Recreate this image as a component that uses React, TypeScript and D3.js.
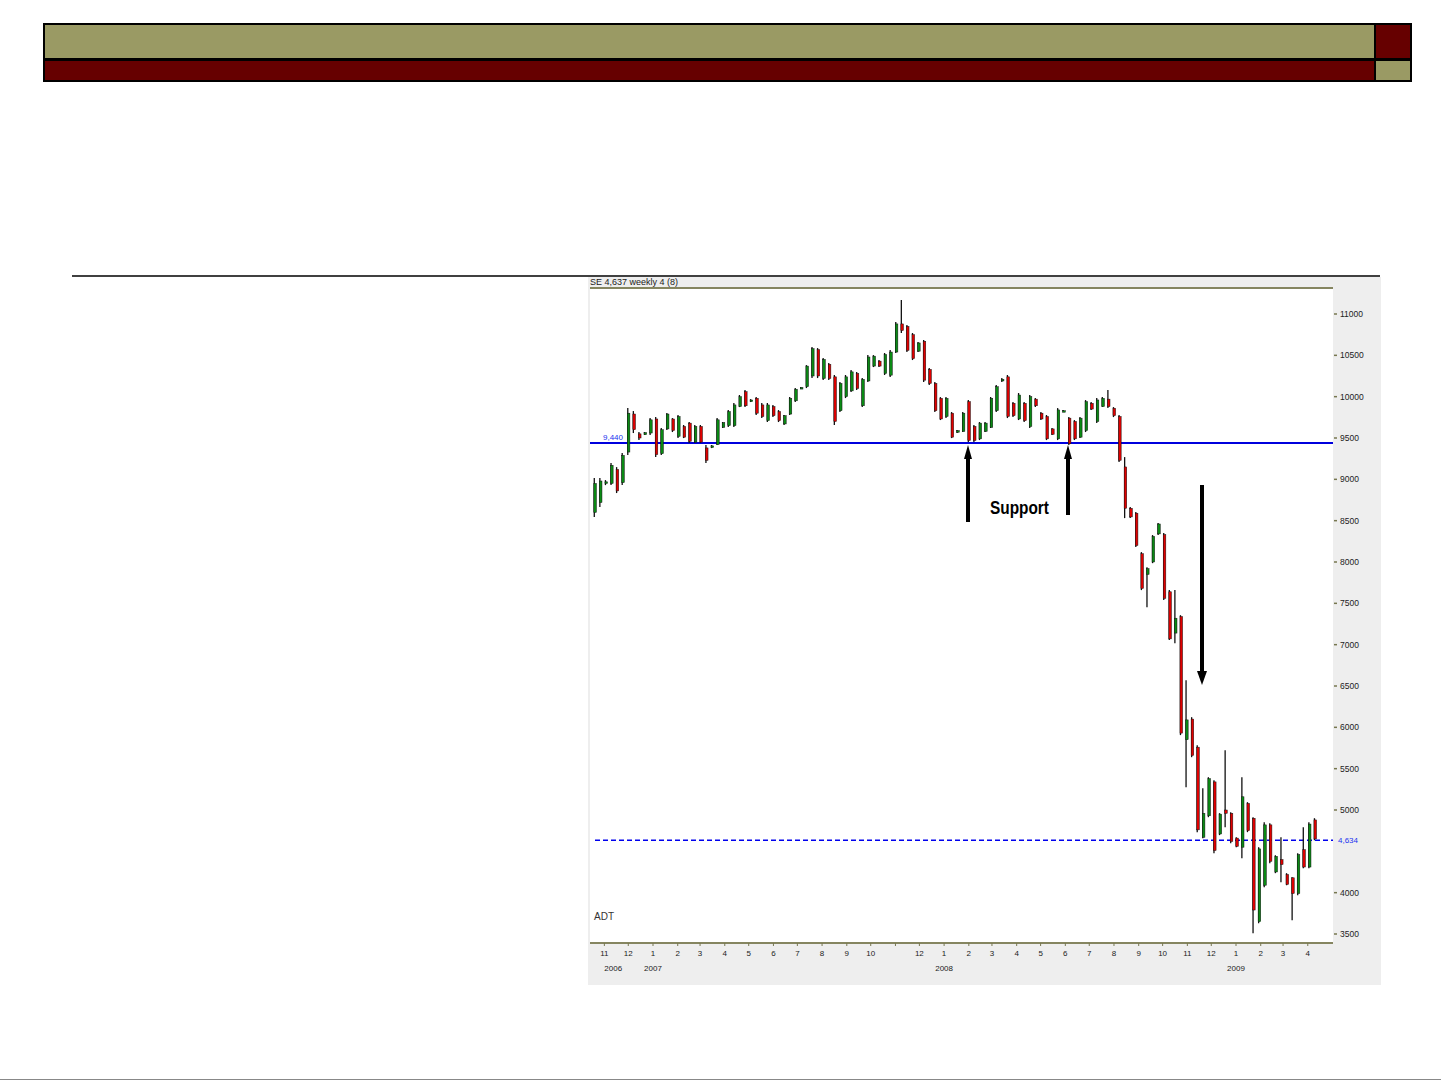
import React from "react";
import * as d3 from "d3";

// Weekly candles (first week ending 2006-10-20)
const highs = [9015,9015,8991,9197,9148,9318,9862,9826,9572,9572,
9741,9753,9620,9802,9741,9778,9657,9693,9657,9657,
9415,9415,9741,9693,9838,9923,10020,10080,9970,9995,
9923,9923,9899,9838,9778,9995,10104,10116,10382,10600,
10588,10467,10407,10262,10177,10262,10322,10298,10225,10503,
10503,10443,10528,10564,10903,11169,10866,10770,10661,10685,
10346,10177,9995,9995,9814,9596,9814,9959,9657,9693,
9693,9995,10140,10225,10262,9935,10044,9935,10020,9983,
9814,9778,9620,9862,9838,9753,9717,9753,9959,9935,
9983,9995,10080,9874,9778,9269,8664,8604,8120,7938,
8326,8471,8350,7660,7660,7357,6571,6123,5784,5264,
5397,5361,4962,5724,4974,4671,5397,5095,4913,4550,
4853,4841,4453,4671,4236,4187,4478,4792,4853,4901];
const lows = [8543,8664,8930,8930,8834,8930,9294,9560,9475,9536,
9536,9269,9294,9596,9572,9499,9499,9439,9439,9439,
9197,9378,9415,9620,9632,9632,9874,9874,9935,9778,
9741,9693,9753,9693,9657,9778,9935,10092,10104,10225,
10225,10201,10201,9657,9814,9983,10056,10080,9874,10177,
10358,10358,10262,10237,10528,10770,10540,10443,10540,10177,
10140,9814,9717,9741,9499,9560,9572,9451,9451,9475,
9572,9620,9814,10177,9741,9753,9717,9693,9620,9874,
9717,9475,9536,9475,9814,9415,9475,9499,9572,9838,
9681,9874,9862,9753,9209,8531,8531,8180,7660,7454,
7986,8326,7539,7055,7018,5906,5276,5639,4732,4659,
4913,4478,4696,4792,4598,4550,4417,4732,3509,3630,
4066,4357,4236,4127,4090,3667,3970,4296,4296,4634];
const opens = [8600,8720,8950,8950,9120,8960,9330,9790,9550,9540,
9560,9730,9310,9610,9730,9520,9640,9680,9450,9640,
9380,9385,9420,9630,9650,9650,9880,10060,9940,9980,
9900,9710,9880,9820,9670,9790,9950,10100,10120,10250,
10570,10220,10390,10240,9830,10000,10070,10280,9890,10190,
10370,10430,10280,10260,10540,10880,10850,10750,10550,10670,
10330,10160,9980,9760,9800,9570,9580,9940,9640,9490,
9580,9630,9830,10190,10240,9920,9730,9920,9640,9970,
9800,9760,9610,9490,9820,9740,9700,9510,9590,9920,
9700,9880,9970,9860,9760,9150,8650,8590,8100,7850,
8000,8340,8330,7640,7140,7340,5850,6100,5760,4670,
4930,5340,4710,5000,4960,4660,4550,5080,4900,3650,
4090,4820,4250,4400,4220,4180,3990,4520,4310,4880];
const closes = [8950,8980,8970,9170,8860,9290,9800,9600,9500,9565,
9720,9300,9600,9790,9590,9760,9510,9460,9640,9450,
9230,9405,9720,9685,9820,9900,10000,9890,9960,9800,
9760,9900,9770,9710,9770,9980,10090,10110,10370,10580,
10250,10450,10220,9700,10160,10240,10300,10100,10210,10480,
10490,10370,10510,10540,10880,10800,10560,10460,10650,10200,
10160,9830,9730,9980,9510,9590,9800,9470,9470,9680,
9680,9980,10120,10210,9760,9770,10020,9710,10000,9890,
9730,9490,9545,9840,9830,9430,9490,9740,9940,9850,
9960,9980,9880,9770,9230,8650,8545,8200,7680,7920,
8310,8460,7560,7070,7320,5930,6090,5660,4760,4960,
5380,4510,4950,4960,4620,4560,5160,4750,3790,4530,
4820,4380,4440,4340,4100,3990,4460,4310,4830,4650];

const yTicks = [11000,10500,10000,9500,9000,8500,8000,7500,7000,6500,6000,5500,5000,4000,3500];
const supportLevel = 9440;
const supportLabel = "9,440";
const lastLevel = 4634;
const lastLabel = "4,634";
const yearLabels = ["2006", "2007", "2008", "2009"];
const skippedMonthLabel = "2007-11";
const titleText = "SE 4,637  weekly 4 (8)";
const cornerText = "ADT";
const annotationText = "Support";

const OLIVE = "#9a9a64";
const DARKRED = "#660000";

export default function App() {
  const start = new Date(2006, 9, 20);
  const dates = highs.map((_, i) => new Date(2006, 9, 20 + 7 * i));
  const candles = dates.map((d, i) => ({ d, o: opens[i], h: highs[i], l: lows[i], c: closes[i] }));

  const x = d3.scaleTime().domain([new Date(2007, 0, 1), new Date(2009, 0, 1)]).range([653, 1236]);
  const y = d3.scaleLinear().domain([3500, 11000]).range([934, 314]);

  const plotL = 590, plotR = 1333, plotT = 289, plotB = 943;
  const months = d3.timeMonth.range(new Date(2006, 10, 1), new Date(2009, 4, 1)).filter(m => x(m) < plotR);
  const fmtKey = d3.timeFormat("%Y-%m");

  const arrowUp = (cx: number, top: number, bottom: number) => (
    <g>
      <line x1={cx} x2={cx} y1={bottom} y2={top + 12} stroke="#000" strokeWidth={4} />
      <path d={`M${cx - 4},${top + 14} L${cx},${top} L${cx + 4},${top + 14} Z`} fill="#000" />
    </g>
  );
  const arrowDown = (cx: number, top: number, bottom: number) => (
    <g>
      <line x1={cx} x2={cx} y1={top} y2={bottom - 12} stroke="#000" strokeWidth={4} />
      <path d={`M${cx - 5},${bottom - 14} L${cx},${bottom} L${cx + 5},${bottom - 14} Z`} fill="#000" />
    </g>
  );

  return (
    <svg width={1441} height={1081} style={{ position: "absolute", left: 0, top: 0, background: "#fff" }}
      fontFamily="Arial, 'Liberation Sans', sans-serif">
      {/* header bars */}
      <rect x={43} y={23} width={1369} height={59} fill="#000" />
      <rect x={45} y={25} width={1329} height={33} fill={OLIVE} />
      <rect x={1376} y={25} width={34} height={33} fill={DARKRED} />
      <rect x={45} y={61} width={1329} height={19} fill={DARKRED} />
      <rect x={1376} y={61} width={34} height={19} fill={OLIVE} />

      {/* divider line */}
      <line x1={72} x2={1380} y1={276} y2={276} stroke="#000" strokeWidth={1.5} />

      {/* chart frame */}
      <rect x={588} y={277} width={793} height={708} fill="#eeeeee" />
      <rect x={plotL} y={plotT} width={plotR - plotL} height={plotB - plotT} fill="#fff" />
      <line x1={plotL} x2={plotR} y1={plotT - 1} y2={plotT - 1} stroke="#858560" strokeWidth={2} />
      <line x1={plotL} x2={plotR} y1={plotB} y2={plotB} stroke="#858560" strokeWidth={2} />
      <text x={590} y={285} fontSize={9} fill="#222">{titleText}</text>

      {/* support line */}
      <line x1={plotL} x2={plotR} y1={y(supportLevel)} y2={y(supportLevel)} stroke="#0000dd" strokeWidth={2} />
      <text x={603} y={y(supportLevel) - 3} fontSize={8} fill="#2233ee">{supportLabel}</text>
      {/* last value dashed line */}
      <line x1={595} x2={plotR} y1={y(lastLevel)} y2={y(lastLevel)} stroke="#0000ee" strokeWidth={1.5} strokeDasharray="5,3" />
      <text x={1338} y={y(lastLevel) + 3} fontSize={8} fill="#2233ee">{lastLabel}</text>

      {/* candles */}
      {candles.map((k, i) => {
        const cx = x(k.d);
        const up = k.c >= k.o;
        const top = y(Math.max(k.o, k.c));
        const bot = y(Math.min(k.o, k.c));
        return (
          <g key={i}>
            <line x1={cx - 0.5} x2={cx - 0.5} y1={y(k.h)} y2={y(k.l)} stroke="#111" strokeWidth={1.3} />
            <rect x={cx - 1} y={top} width={2.6} height={Math.max(1.5, bot - top)}
              fill={up ? "#0a8a14" : "#e00000"} stroke="#111" strokeWidth={0.5} />
          </g>
        );
      })}

      {/* right axis */}
      {yTicks.map(v => (
        <g key={v}>
          <line x1={1334} x2={1337} y1={y(v)} y2={y(v)} stroke="#777750" strokeWidth={1.5} />
          <text x={1340} y={y(v) + 3} fontSize={8.5} fill="#222">{v}</text>
        </g>
      ))}

      {/* bottom axis */}
      {months.map(m => {
        const mx = x(m);
        const key = fmtKey(m);
        return (
          <g key={key}>
            <line x1={mx} x2={mx} y1={plotB} y2={plotB + 3} stroke="#777750" strokeWidth={1} />
            {key !== skippedMonthLabel && (
              <text x={mx} y={956} fontSize={8} textAnchor="middle" fill="#222">{m.getMonth() + 1}</text>
            )}
          </g>
        );
      })}
      <text x={x(new Date(2006, 10, 1))} y={971} fontSize={8} textAnchor="start" fill="#222">{yearLabels[0]}</text>
      <text x={x(new Date(2007, 0, 1))} y={971} fontSize={8} textAnchor="middle" fill="#222">{yearLabels[1]}</text>
      <text x={x(new Date(2008, 0, 1))} y={971} fontSize={8} textAnchor="middle" fill="#222">{yearLabels[2]}</text>
      <text x={x(new Date(2009, 0, 1))} y={971} fontSize={8} textAnchor="middle" fill="#222">{yearLabels[3]}</text>
      <text x={594} y={920} fontSize={10} fill="#333">{cornerText}</text>

      {/* annotations */}
      {arrowUp(968, y(supportLevel) + 2, 522)}
      {arrowUp(1068, y(supportLevel) + 2, 515)}
      {arrowDown(1202, 485, 685)}
      <text x={990} y={514} fontSize={18} fontWeight="bold" textLength={59} lengthAdjust="spacingAndGlyphs" fill="#000">{annotationText}</text>

      {/* bottom slide line */}
      <line x1={0} x2={1441} y1={1079.5} y2={1079.5} stroke="#888" strokeWidth={1} />
    </svg>
  );
}
